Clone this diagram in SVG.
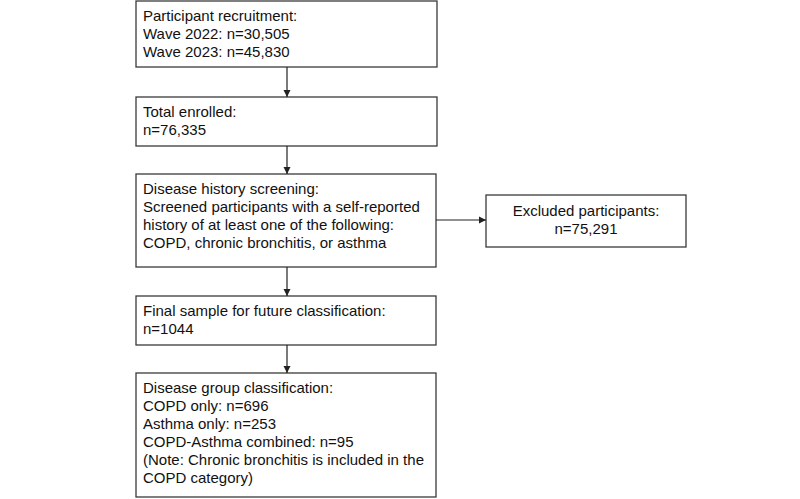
<svg xmlns="http://www.w3.org/2000/svg" width="800" height="499" viewBox="0 0 800 499">
<style>
rect{fill:#fff;stroke:#3a3a3a;stroke-width:1.3}
text{font-family:"Liberation Sans",Arial,sans-serif;font-size:15px;fill:#111}
.c{stroke:#222;stroke-width:1.2;fill:none}
</style>
<defs><marker id="a" markerWidth="8" markerHeight="8" refX="7" refY="4" orient="auto" markerUnits="userSpaceOnUse"><path d="M0,0.5 L7,4 L0,7.5Z" fill="#222"/></marker></defs>
<rect x="0" y="0" width="800" height="499" style="stroke:none"/>
<g id="n1"><rect x="136" y="1" width="301" height="66"/><text x="143" y="21">Participant recruitment:</text><text x="143" y="39">Wave 2022: n=30,505</text><text x="143" y="57">Wave 2023: n=45,830</text></g>
<g id="n2"><rect x="136" y="97" width="301" height="49"/><text x="143" y="117">Total enrolled:</text><text x="143" y="135">n=76,335</text></g>
<g id="n3"><rect x="136" y="174" width="300" height="93"/><text x="143" y="194">Disease history screening:</text><text x="143" y="212">Screened participants with a self-reported</text><text x="143" y="230">history of at least one of the following:</text><text x="143" y="248">COPD, chronic bronchitis, or asthma</text></g>
<g id="n4"><rect x="486" y="195" width="200" height="52"/><text x="586" y="216" text-anchor="middle">Excluded participants:</text><text x="586" y="234" text-anchor="middle">n=75,291</text></g>
<g id="n5"><rect x="136" y="296" width="300" height="49"/><text x="143" y="316">Final sample for future classification:</text><text x="143" y="334">n=1044</text></g>
<g id="n6"><rect x="136" y="373" width="300" height="124"/><text x="143" y="393">Disease group classification:</text><text x="143" y="411">COPD only: n=696</text><text x="143" y="429">Asthma only: n=253</text><text x="143" y="447">COPD-Asthma combined: n=95</text><text x="143" y="465">(Note: Chronic bronchitis is included in the</text><text x="143" y="483">COPD category)</text></g>
<g id="connectors">
<line class="c" x1="287" y1="67" x2="287" y2="97" marker-end="url(#a)"/>
<line class="c" x1="287" y1="146" x2="287" y2="174" marker-end="url(#a)"/>
<line class="c" x1="436" y1="220" x2="486" y2="220" marker-end="url(#a)"/>
<line class="c" x1="287" y1="267" x2="287" y2="296" marker-end="url(#a)"/>
<line class="c" x1="287" y1="345" x2="287" y2="373" marker-end="url(#a)"/>
</g>
</svg>
